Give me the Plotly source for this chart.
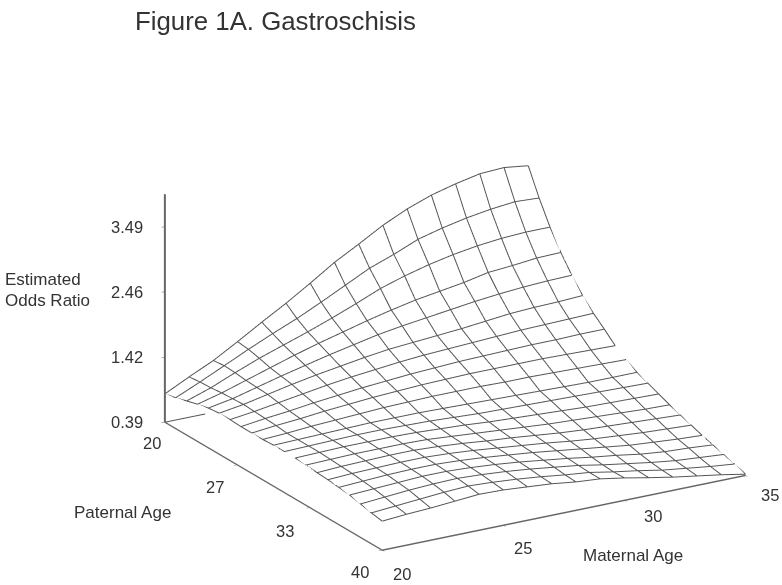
import plotly.graph_objects as go

maternal_age = list(range(20, 36))
paternal_age = list(range(20, 41))
odds_ratio = [
 [.84,1.03,1.21,1.43,1.66,1.88,2.12,2.37,2.58,2.80,2.98,3.12,3.22,3.30,3.32,3.27],
 [.88,1.05,1.23,1.41,1.58,1.74,1.92,2.11,2.30,2.44,2.60,2.70,2.78,2.84,2.88,2.86],
 [.93,1.06,1.22,1.37,1.50,1.63,1.77,1.92,2.08,2.20,2.30,2.38,2.44,2.48,2.50,2.50],
 [.98,1.08,1.20,1.32,1.44,1.55,1.65,1.75,1.84,1.92,1.98,2.04,2.12,2.15,2.19,2.20],
 [1.02,1.09,1.19,1.29,1.38,1.47,1.55,1.63,1.69,1.74,1.79,1.84,1.88,1.91,1.93,1.94],
 [1.04,1.10,1.18,1.26,1.33,1.39,1.45,1.50,1.53,1.56,1.59,1.63,1.67,1.69,1.70,1.72],
 [1.04,1.09,1.15,1.21,1.27,1.32,1.36,1.40,1.43,1.45,1.47,1.49,1.51,1.52,1.53,1.54],
 [1.03,1.08,1.12,1.17,1.21,1.25,1.28,1.31,1.33,1.35,1.36,1.37,1.38,1.38,1.39,1.39],
 [1.03,1.07,1.10,1.14,1.17,1.20,1.22,1.24,1.25,1.26,1.26,1.26,1.26,1.25,1.24,1.23],
 [1.03,1.05,1.08,1.10,1.12,1.14,1.15,1.16,1.16,1.16,1.15,1.15,1.14,1.13,1.12,1.11],
 [1.04,1.05,1.06,1.07,1.08,1.08,1.08,1.07,1.06,1.05,1.04,1.03,1.02,1.01,1.01,1.01],
 [1.04,1.05,1.06,1.07,1.07,1.06,1.05,1.03,1.01,1.00,.99,.98,.97,.96,.95,.94],
 [1.04,1.05,1.06,1.06,1.06,1.05,1.03,1.01,.98,.96,.94,.92,.90,.89,.88,.87],
 [1.03,1.04,1.05,1.05,1.05,1.04,1.01,.98,.95,.92,.89,.87,.85,.83,.81,.80],
 [1.01,1.03,1.04,1.05,1.05,1.03,1.00,.96,.93,.89,.85,.82,.80,.78,.76,.74],
 [1.00,1.02,1.03,1.04,1.04,1.02,.99,.95,.91,.87,.82,.78,.75,.72,.70,.68],
 [.98,1.00,1.02,1.03,1.03,1.01,.98,.94,.90,.85,.80,.75,.70,.67,.64,.62],
 [.96,.98,1.00,1.02,1.02,1.00,.97,.93,.88,.83,.77,.72,.66,.62,.60,.57],
 [.92,.95,.98,1.00,1.01,.99,.96,.92,.87,.82,.75,.69,.63,.58,.55,.52],
 [.88,.91,.94,.97,.99,.97,.94,.90,.85,.81,.74,.68,.61,.56,.51,.47],
 [.85,.88,.90,.93,.96,.95,.92,.89,.84,.81,.745,.67,.60,.54,.48,.41],
]
z_ticks = [0.39, 1.42, 2.46, 3.49]
pat_ticks = [20, 26.67, 33.33, 40]
pat_labels = ["20", "27", "33", "40"]
mat_ticks = [20, 25, 30, 35]
mat_labels = ["20", "25", "30", "35"]
back_edge_visible_to = 21.66  # maternal age where the back base edge passes behind the surface

LINE = "#555555"
TEXT = "#333333"
FONT = "Liberation Sans, Arial, sans-serif"
W, H = 782, 585
Z0 = z_ticks[0]

fig = go.Figure(go.Surface(
    x=maternal_age, y=paternal_age, z=odds_ratio, opacity=0.01,
    colorscale=[[0, "white"], [1, "white"]], showscale=False, hoverinfo="skip",
    lighting=dict(ambient=1, diffuse=0, specular=0, fresnel=0, roughness=1),
    contours=dict(x=dict(highlight=False), y=dict(highlight=False), z=dict(highlight=False)),
))

def line3d(x, y, z, width=2, color=LINE):
    fig.add_trace(go.Scatter3d(x=x, y=y, z=z, mode="lines", line=dict(color=color, width=width),
                               hoverinfo="skip", showlegend=False))

for p, row in zip(paternal_age, odds_ratio):
    line3d(maternal_age, [p] * len(maternal_age), row)
for j, m in enumerate(maternal_age):
    line3d([m] * len(paternal_age), paternal_age, [row[j] for row in odds_ratio])
line3d([20, back_edge_visible_to], [20, 20], [Z0, Z0])

def axis(vals, rng, lw=3):
    return dict(
        range=rng, title=dict(text=""), tickmode="array", tickvals=vals, showticklabels=False,
        showbackground=False, showgrid=False, zeroline=False, showspikes=False,
        showline=True, linecolor="#666666", linewidth=lw,
        ticks="outside", ticklen=4, tickcolor="#666666", tickwidth=1,
    )

D = 3.0
c = (-0.1635, 0.155, 0.136)
d = (-0.477, -0.807, 0.348)
eye = tuple(c[i] + D * d[i] for i in range(3))

def note(text, px, py, size):
    return dict(text=text, x=px / W, y=1 - py / H, xref="paper", yref="paper",
                xanchor="left", yanchor="middle", showarrow=False, align="left",
                font=dict(family=FONT, size=size, color=TEXT))

def tick(text, x, y, z, dx, dy):
    return dict(text=text, x=x, y=y, z=z, xshift=dx, yshift=-dy, showarrow=False,
                xanchor="center", yanchor="middle",
                font=dict(family=FONT, size=16.5, color=TEXT))

scene_notes = []
for v in z_ticks:
    scene_notes.append(tick(f"{v:.2f}", 20, 20, v, -38, 0))
for v, s, (dx, dy) in zip(pat_ticks, pat_labels, [(-13, 21), (-22, 22), (-25, 23), (-22, 22)]):
    scene_notes.append(tick(s, 20, v, Z0, dx, dy))
for v, s, (dx, dy) in zip(mat_ticks, mat_labels, [(20, 24), (20, 23), (29, 16), (24, 20)]):
    scene_notes.append(tick(s, v, 40, Z0, dx, dy))

fig.update_layout(
    width=W, height=H, margin=dict(l=0, r=0, t=0, b=0),
    paper_bgcolor="white", showlegend=False,
    scene=dict(
        domain=dict(x=[0, 1], y=[0, 1]),
        xaxis=axis(mat_ticks, [20, 35]),
        yaxis=axis(pat_ticks, [40, 20]),
        zaxis=axis(z_ticks, [Z0, 4.0], 4),
        aspectmode="manual", aspectratio=dict(x=1.443, y=1.46, z=0.831),
        camera=dict(projection=dict(type="orthographic"),
                    eye=dict(x=eye[0], y=eye[1], z=eye[2]),
                    center=dict(x=c[0], y=c[1], z=c[2]),
                    up=dict(x=0, y=0, z=1)),
        annotations=scene_notes,
    ),
    annotations=[
        note("Figure 1A. Gastroschisis", 133, 21, 25.8),
        note("Estimated", 3, 279, 17),
        note("Odds Ratio", 3, 300, 17),
        note("Paternal Age", 72, 512, 17),
        note("Maternal Age", 581, 555, 17),
    ],
)
fig.write_html("out.html", config={"displayModeBar": False},
               post_script="document.body.style.margin='0';")
